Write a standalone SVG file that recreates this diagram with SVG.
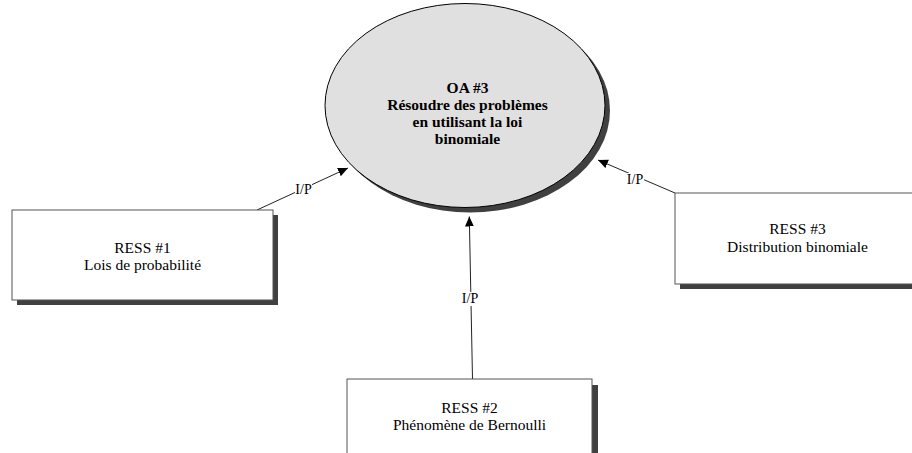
<svg xmlns="http://www.w3.org/2000/svg" width="912" height="453" viewBox="0 0 912 453" font-family="'Liberation Serif', 'Times New Roman', Times, serif">
  <defs>
    <marker id="arrow" markerUnits="userSpaceOnUse" markerWidth="11" markerHeight="10" refX="10" refY="4.5" orient="auto">
      <path d="M0,0 L10,4.5 L0,9 z" fill="#000"/>
    </marker>
    <style>
      .shadow { fill: #404040; }
      .box { fill: #fff; stroke: #555; stroke-width: 1; }
      .conn { fill: none; stroke: #222; stroke-width: 1; marker-end: url(#arrow); }
      .lbl { font-size: 14px; fill: #000; text-anchor: middle; }
      .lblbg { fill: #fff; }
      .txt { font-size: 15.5px; fill: #000; text-anchor: middle; }
      .bold { font-weight: bold; }
    </style>
  </defs>
  <rect width="912" height="453" fill="#fff"/>

  <!-- connectors -->
  <g id="connectors">
    <line class="conn" x1="257" y1="210" x2="348" y2="168"/>
    <line class="conn" x1="472.5" y1="379" x2="469.3" y2="216.5"/>
    <line class="conn" x1="675" y1="193" x2="598" y2="160"/>
    <rect class="lblbg" x="295" y="183" width="17" height="13"/>
    <text class="lbl" x="303.5" y="194">I/P</text>
    <rect class="lblbg" x="462" y="292" width="16" height="14"/>
    <text class="lbl" x="470" y="303">I/P</text>
    <rect class="lblbg" x="626" y="173" width="18" height="13"/>
    <text class="lbl" x="635" y="184">I/P</text>
  </g>

  <!-- objective -->
  <g id="oa3">
    <ellipse class="shadow" cx="470" cy="110.5" rx="140" ry="102"/>
    <ellipse cx="465" cy="105.5" rx="140" ry="102" fill="#e0e0e0" stroke="#000" stroke-width="1"/>
    <text class="txt bold" x="467.5" y="93">OA #3</text>
    <text class="txt bold" x="467.5" y="110">Résoudre des problèmes</text>
    <text class="txt bold" x="467.5" y="127">en utilisant la loi</text>
    <text class="txt bold" x="467.5" y="144">binomiale</text>
  </g>

  <!-- resources -->
  <g id="ress1">
    <rect class="shadow" x="17" y="215" width="261" height="90"/>
    <rect class="box" x="12" y="210" width="261" height="90"/>
    <text class="txt" x="142.5" y="253">RESS #1</text>
    <text class="txt" x="142.5" y="270">Lois de probabilité</text>
  </g>

  <g id="ress2">
    <rect class="shadow" x="353" y="385" width="245" height="100"/>
    <rect class="box" x="347" y="379" width="245" height="100"/>
    <text class="txt" x="469.5" y="413">RESS #2</text>
    <text class="txt" x="469.5" y="430">Phénomène de Bernoulli</text>
  </g>

  <g id="ress3">
    <rect class="shadow" x="680" y="198" width="245" height="91"/>
    <rect class="box" x="675" y="193" width="245" height="91"/>
    <text class="txt" x="797.5" y="234">RESS #3</text>
    <text class="txt" x="797.5" y="251.5">Distribution binomiale</text>
  </g>
</svg>
